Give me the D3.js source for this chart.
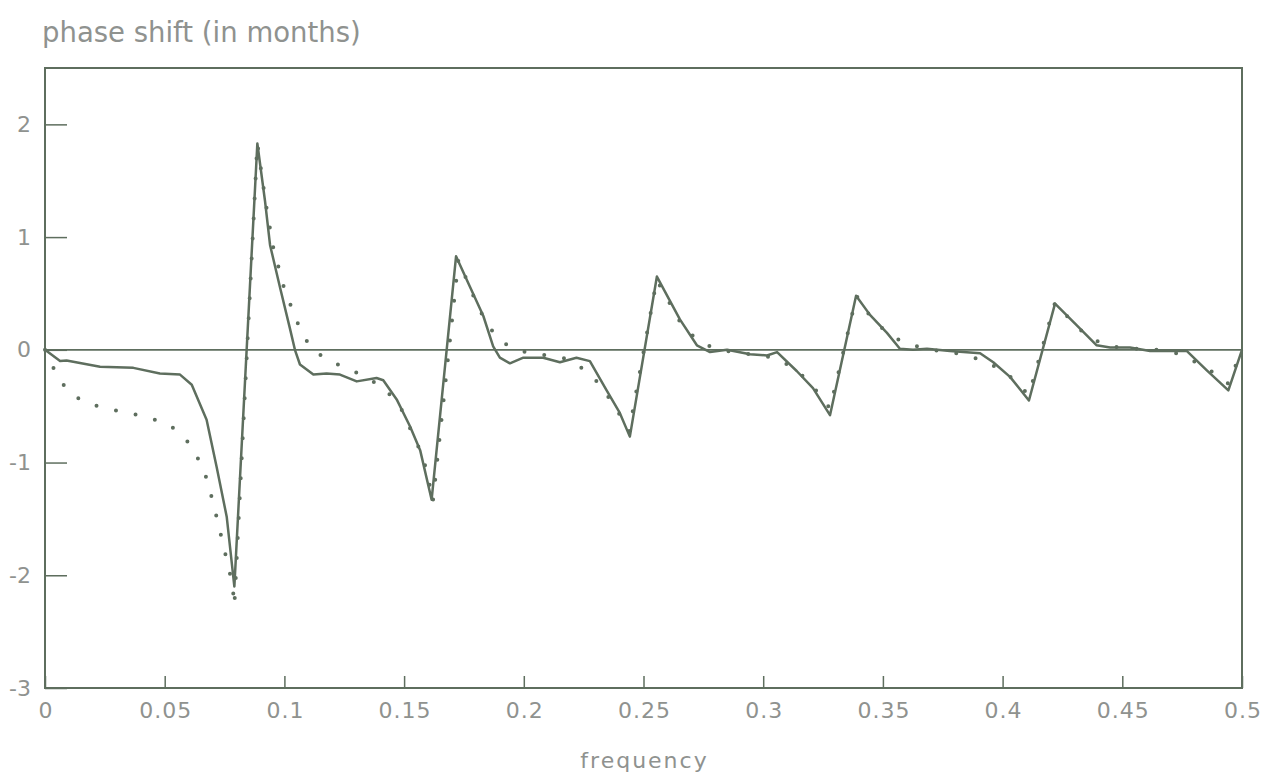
<!DOCTYPE html>
<html>
<head>
<meta charset="utf-8">
<script src="https://cdn.jsdelivr.net/npm/d3@7"></script>
<style>
  body { margin: 0; background: #fff; }
  text { font-family: "DejaVu Sans", "Liberation Sans", sans-serif; fill: #8f928f; }
</style>
</head>
<body>
<div id="chart"></div>
<script>
// values
var freqSolid = [0, 0.0063, 0.009, 0.023, 0.0369, 0.048, 0.0564, 0.0613, 0.0675, 0.0717, 0.0759, 0.0791,
  0.0887, 0.0919, 0.094, 0.0982, 0.1023, 0.1044, 0.1065, 0.1121, 0.1176, 0.1232, 0.1302, 0.1385, 0.1413,
  0.1469, 0.1525, 0.1567, 0.1615,
  0.1717, 0.1775, 0.1831, 0.1872, 0.19, 0.1942, 0.1998, 0.2081, 0.2151, 0.222, 0.2276, 0.2346, 0.2401, 0.2443,
  0.2556, 0.2652, 0.2723, 0.2778, 0.2849, 0.2945, 0.3016, 0.3058, 0.3141, 0.3208, 0.3279,
  0.3388, 0.3446, 0.3517, 0.3571, 0.3626, 0.3684, 0.378, 0.3906, 0.3961, 0.4031, 0.411,
  0.4219, 0.4309, 0.4393, 0.4449, 0.4532, 0.4616, 0.4699, 0.4769, 0.4852, 0.4943, 0.5];
var phaseSolid = [0, -0.10, -0.095, -0.15, -0.16, -0.21, -0.22, -0.31, -0.62, -1.04, -1.48, -2.10,
  1.83, 1.32, 0.93, 0.55, 0.19, 0.0, -0.13, -0.22, -0.21, -0.22, -0.28, -0.25, -0.27,
  -0.44, -0.68, -0.89, -1.33,
  0.83, 0.56, 0.30, 0.03, -0.07, -0.12, -0.07, -0.07, -0.11, -0.07, -0.10, -0.36, -0.56, -0.77,
  0.65, 0.27, 0.04, -0.02, 0.0, -0.04, -0.05, -0.02, -0.19, -0.34, -0.58,
  0.48, 0.31, 0.15, 0.01, 0.0, 0.01, -0.01, -0.03, -0.11, -0.24, -0.45,
  0.41, 0.22, 0.04, 0.02, 0.02, -0.01, -0.01, -0.01, -0.18, -0.36, 0.0];

var freqDotted = [0, 0.0042, 0.0092, 0.0167, 0.0258, 0.0345, 0.0434, 0.0522, 0.0588, 0.0638, 0.0675, 0.0699,
  0.072, 0.0741, 0.0762, 0.0783, 0.0791,
  0.0887, 0.0922, 0.0952, 0.0977, 0.1001, 0.1033, 0.1066, 0.1112, 0.1189, 0.1278, 0.1358, 0.1433, 0.1487,
  0.1562, 0.1595, 0.162,
  0.1727, 0.1773, 0.181, 0.1848, 0.1907, 0.1984, 0.21, 0.218, 0.2248, 0.2315, 0.238, 0.244,
  0.2555, 0.2652, 0.2717, 0.2796, 0.29, 0.30, 0.307, 0.3145, 0.321, 0.3279,
  0.339, 0.3446, 0.3512, 0.3589, 0.37, 0.378, 0.3857, 0.3944, 0.4023, 0.411,
  0.4219, 0.429, 0.4359, 0.4449, 0.455, 0.465, 0.4725, 0.4808, 0.488, 0.4943, 0.5];
var phaseDotted = [0, -0.19, -0.36, -0.47, -0.52, -0.56, -0.60, -0.67, -0.79, -0.96, -1.14, -1.33,
  -1.51, -1.70, -1.89, -2.08, -2.27,
  1.83, 1.30, 0.92, 0.72, 0.53, 0.36, 0.18, 0.01, -0.10, -0.18, -0.26, -0.38, -0.52,
  -0.87, -1.07, -1.35,
  0.80, 0.56, 0.38, 0.22, 0.07, -0.01, -0.05, -0.08, -0.17, -0.30, -0.50, -0.72,
  0.62, 0.25, 0.10, 0.01, -0.03, -0.05, -0.09, -0.19, -0.33, -0.52,
  0.48, 0.30, 0.16, 0.06, 0.0, -0.02, -0.05, -0.12, -0.22, -0.40,
  0.42, 0.25, 0.11, 0.03, 0.01, 0.0, -0.03, -0.11, -0.20, -0.30, 0.0];

var xTicks = [0, 0.05, 0.1, 0.15, 0.2, 0.25, 0.3, 0.35, 0.4, 0.45, 0.5];
var xTickLabels = ["0", "0.05", "0.1", "0.15", "0.2", "0.25", "0.3", "0.35", "0.4", "0.45", "0.5"];
var yTicks = [-3, -2, -1, 0, 1, 2];
var yTickLabels = ["-3", "-2", "-1", "0", "1", "2"];

// set the dimensions and margins of the graph
var margin = {top: 68, right: 35, bottom: 94, left: 45},
    width = 1277 - margin.left - margin.right,
    height = 782 - margin.top - margin.bottom;

var lineColor = "#5e6e5e";

var svg = d3.select("#chart")
  .append("svg")
    .attr("width", width + margin.left + margin.right)
    .attr("height", height + margin.top + margin.bottom)
  .append("g")
    .attr("transform", "translate(" + margin.left + "," + margin.top + ")");

var x = d3.scaleLinear().domain([0, 0.5]).range([0, width]);
var y = d3.scaleLinear().domain([-3, 2.5]).range([height, 0]);

// x axis, ticks pointing inward
var xAxis = svg.append("g")
    .attr("transform", "translate(0," + height + ")")
    .call(d3.axisBottom(x)
      .tickValues(xTicks)
      .tickFormat(function(d, i) { return xTickLabels[i]; })
      .tickSize(-12)
      .tickPadding(14));
xAxis.select(".domain").remove();
xAxis.selectAll("line").attr("stroke", lineColor).attr("stroke-width", 1.5);
xAxis.selectAll("text")
    .style("font-size", "22px")
    .style("letter-spacing", "1px")
    .attr("dx", "0.5px")
    .attr("fill", "#8f928f");

// y axis
var yAxis = svg.append("g")
    .call(d3.axisLeft(y)
      .tickValues(yTicks)
      .tickFormat(function(d, i) { return yTickLabels[i]; })
      .tickSize(-22)
      .tickPadding(14));
yAxis.select(".domain").remove();
yAxis.selectAll("line").attr("stroke", lineColor).attr("stroke-width", 1.5);
yAxis.selectAll("text").style("font-size", "22px").attr("fill", "#8f928f");

// frame
svg.append("rect")
    .attr("x", 0).attr("y", 0)
    .attr("width", width).attr("height", height)
    .attr("fill", "none")
    .attr("stroke", lineColor)
    .attr("stroke-width", 2);

// zero line
svg.append("line")
    .attr("x1", x(0)).attr("x2", x(0.5))
    .attr("y1", y(0)).attr("y2", y(0))
    .attr("stroke", lineColor)
    .attr("stroke-width", 1.8);

var line = d3.line()
    .x(function(d) { return x(d[0]); })
    .y(function(d) { return y(d[1]); });

// dotted series
svg.append("path")
    .datum(d3.zip(freqDotted, phaseDotted))
    .attr("d", line)
    .attr("fill", "none")
    .attr("stroke", lineColor)
    .attr("stroke-width", 4)
    .attr("stroke-linecap", "round")
    .attr("stroke-dasharray", "0,20");

// solid series
svg.append("path")
    .datum(d3.zip(freqSolid, phaseSolid))
    .attr("d", line)
    .attr("fill", "none")
    .attr("stroke", lineColor)
    .attr("stroke-width", 2.5)
    .attr("stroke-linejoin", "round");

// titles
svg.append("text")
    .attr("x", -3).attr("y", -26)
    .text("phase shift (in months)")
    .style("font-size", "27.5px");

svg.append("text")
    .attr("x", width / 2 + 1).attr("y", height + 80)
    .attr("text-anchor", "middle")
    .text("frequency")
    .style("font-size", "22px")
    .style("letter-spacing", "2px");
</script>
</body>
</html>
